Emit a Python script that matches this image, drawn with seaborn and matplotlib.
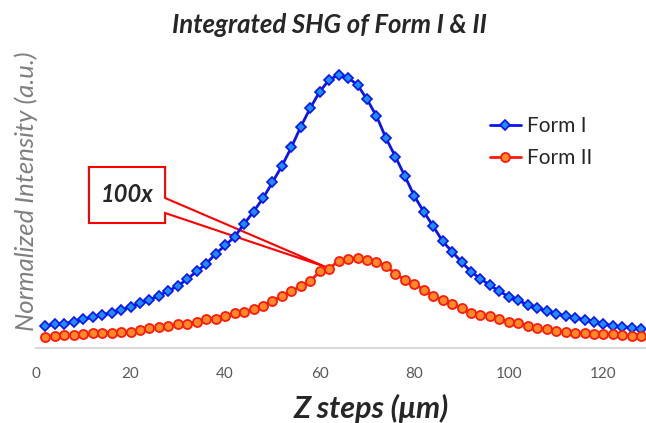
import pandas as pd
import matplotlib.pyplot as plt
import seaborn as sns
from matplotlib.patches import Polygon

# данные (a.u.)
z_steps = list(range(2, 130, 2))
form1 = [22, 23.7, 24.3, 26.3, 29, 30.7, 33, 35.3, 38, 41, 44.7, 48.3, 52.3, 57.3, 62, 69,
         76.7, 84.3, 94.3, 102.5, 111.3, 124, 136.3, 149.7, 165.7, 182, 200.7, 221.3, 240, 256.3, 268.3, 273,
         270.3, 263, 248.7, 232, 210, 191.3, 172, 152, 136.3, 121.7, 106.7, 96.3, 86, 76.3, 69.3, 62.7,
         56.7, 51.3, 47.7, 43, 40, 37, 34, 32.3, 30, 28.3, 26.3, 24.3, 22, 21.3, 20.3, 19]
form2 = [11.3, 12.3, 13, 13, 14, 14.7, 15, 15.3, 15.7, 16.3, 18, 20, 20.7, 21.7, 23.7, 24.3,
         26.3, 29, 29.5, 32.5, 34.7, 36.3, 39, 42.3, 47.3, 51.7, 56.7, 61.7, 66.7, 76.7, 79.3, 87.3,
         88.7, 90, 87.7, 86.3, 82.3, 74.3, 68, 64.3, 58, 52.3, 48, 44.3, 39.7, 35.3, 33.3, 32.3,
         29, 25.7, 24.7, 22, 20.3, 18.7, 17, 15.7, 15.3, 14.7, 14.3, 14.3, 13.7, 13, 12.3, 11.7]
x_ticks = [0, 20, 40, 60, 80, 100, 120]

df = pd.DataFrame({'z': z_steps, 'Form I': form1, 'Form II': form2})

sns.set_style('white')
plt.rcParams['font.family'] = ['Lato', 'DejaVu Sans']

fig = plt.figure(figsize=(6.46, 4.23), dpi=100)
ax = fig.add_axes([36 / 646, 75 / 423, 610 / 646, 293 / 423])

sns.lineplot(data=df, x='z', y='Form I', ax=ax, color='#0a14f0', lw=2,
             marker='D', markersize=5, markerfacecolor='#1f8fef', markeredgecolor='#0a14f0',
             markeredgewidth=1.2, label='Form I', zorder=3)
sns.lineplot(data=df, x='z', y='Form II', ax=ax, color='#ff1a0a', lw=2,
             marker='o', markersize=6.5, markerfacecolor='#ff8a2a', markeredgecolor='#ff1a0a',
             markeredgewidth=1.3, label='Form II', zorder=4)

ax.set_xlim(0, 129)
ax.set_ylim(0, 293)
ax.set_xticks(x_ticks)
ax.set_yticks([])
ax.tick_params(axis='x', length=0, labelsize=11, labelcolor='#595959', pad=14)
sns.despine(ax=ax, left=True, right=True, top=True)
ax.spines['bottom'].set_color('#d9d9d9')
ax.spines['bottom'].set_linewidth(1.5)

ax.set_xlabel('Z steps (μm)', fontsize=22, fontweight='bold', fontstyle='italic')
ax.xaxis.label.set_va('center')
ax.xaxis.set_label_coords(0.55, -0.205)
ax.set_ylabel('Normalized Intensity (a.u.)', fontsize=18.5, fontstyle='italic', color='#7f7f7f')
ax.yaxis.set_label_coords(0.003, 0.535)
fig.text(0.51, 0.94, 'Integrated SHG of Form I & II', ha='center', va='center',
         fontsize=18.5, fontweight='bold', fontstyle='italic')

# выноска "100x"
callout = Polygon([(11.2, 125), (27.3, 125), (27.3, 135), (61.3, 81), (27.3, 150),
                   (27.3, 181), (11.2, 181)], closed=True, facecolor='white',
                  edgecolor='#ff0000', lw=1.5, zorder=2)
ax.add_patch(callout)
ax.text(19.2, 153, '100x', ha='center', va='center', fontsize=17,
        fontweight='bold', fontstyle='italic', zorder=5)

ax.legend(loc='upper left', bbox_to_anchor=(0.744, 0.792), frameon=False, fontsize=15,
          borderpad=0, borderaxespad=0, handlelength=1.5, handletextpad=0.3,
          labelspacing=0.6, labelcolor='#262626')

plt.savefig('out.png', dpi=100)
